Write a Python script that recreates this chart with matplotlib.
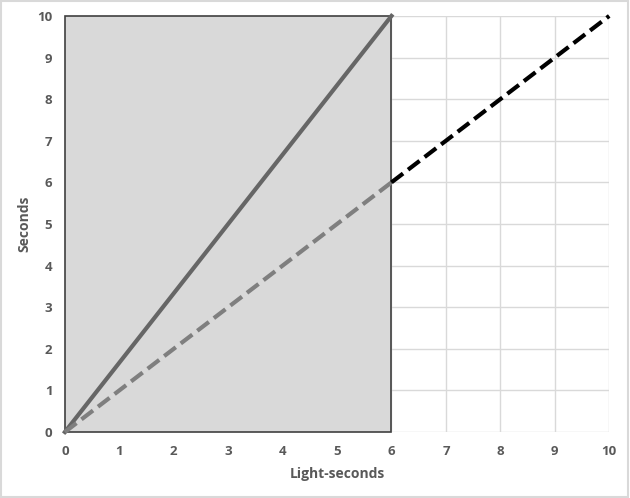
import matplotlib.pyplot as plt
from matplotlib.patches import Rectangle

ticks = list(range(0, 11))
solid_x = [0, 6]
solid_y = [0, 10]
dash_in_x = [0, 6]
dash_in_y = [0, 6]
dash_out_x = [6, 10]
dash_out_y = [6, 10]
region_x = [0, 6]
region_y = [0, 10]

plt.rcParams['font.family'] = ['Open Sans', 'DejaVu Sans']

fig = plt.figure(figsize=(6.3, 4.98), dpi=100)
ax = fig.add_axes([0.103, 0.1325, 0.864, 0.8355])

ax.set_xlim(0, 10)
ax.set_ylim(0, 10)
ax.set_xticks(ticks)
ax.set_yticks(ticks)
ax.grid(True, color='#d9d9d9', linewidth=1)
ax.set_axisbelow(True)
for s in ax.spines.values():
    s.set_visible(False)
ax.tick_params(length=0, labelsize=9.5, labelcolor='#595959', pad=9)
for lab in ax.get_xticklabels() + ax.get_yticklabels():
    lab.set_fontweight('bold')

rect = Rectangle((region_x[0], region_y[0]), region_x[1] - region_x[0], region_y[1] - region_y[0],
                 facecolor='#d9d9d9', edgecolor='#404040', linewidth=1.2, zorder=1.5, clip_on=False)
ax.add_patch(rect)

ax.plot(solid_x, solid_y, color='#666666', linewidth=3, zorder=3, clip_on=False)
ax.plot(dash_in_x, dash_in_y, color='#7f7f7f', linewidth=3, linestyle=(0, (3.5, 1.5)), zorder=3, clip_on=False)
ax.plot(dash_out_x, dash_out_y, color='black', linewidth=3, linestyle=(0, (3.5, 1.5)), zorder=3, clip_on=False)

ax.set_xlabel('Light-seconds', fontsize=10, fontweight='bold', color='#595959', labelpad=7)
ax.set_ylabel('Seconds', fontsize=10, fontweight='bold', color='#595959', labelpad=4)

fig.patches.append(Rectangle((0.001, 0.002), 0.996, 0.995, transform=fig.transFigure,
                             fill=False, edgecolor='#d9d9d9', linewidth=1.5))

fig.savefig('out.png', dpi=100)
